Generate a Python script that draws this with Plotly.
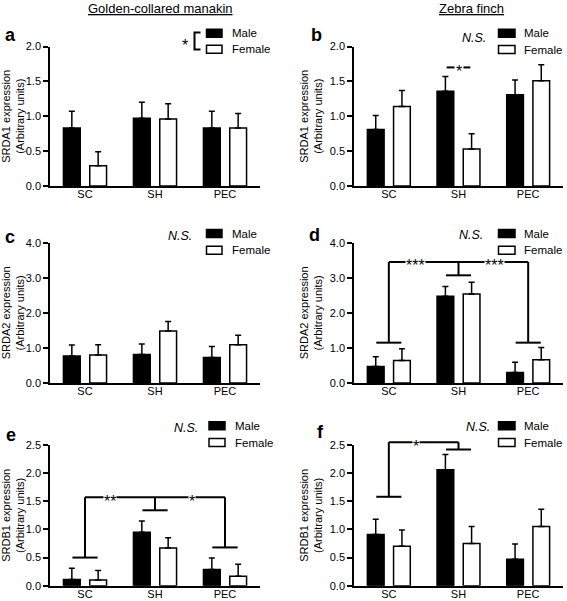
import plotly.graph_objects as go

# ---------------- data ----------------
categories = ["SC", "SH", "PEC"]

a_male = [0.83, 0.97, 0.83]
a_male_err = [0.24, 0.23, 0.24]
a_female = [0.29, 0.96, 0.83]
a_female_err = [0.20, 0.22, 0.21]

b_male = [0.81, 1.36, 1.31]
b_male_err = [0.20, 0.21, 0.21]
b_female = [1.14, 0.53, 1.51]
b_female_err = [0.23, 0.22, 0.23]

c_male = [0.77, 0.81, 0.73]
c_male_err = [0.31, 0.30, 0.31]
c_female = [0.80, 1.48, 1.09]
c_female_err = [0.29, 0.27, 0.27]

d_male = [0.47, 2.47, 0.30]
d_male_err = [0.28, 0.28, 0.29]
d_female = [0.64, 2.54, 0.66]
d_female_err = [0.34, 0.33, 0.35]

e_male = [0.11, 0.95, 0.29]
e_male_err = [0.20, 0.20, 0.20]
e_female = [0.10, 0.67, 0.17]
e_female_err = [0.17, 0.18, 0.21]

f_male = [0.91, 2.06, 0.47]
f_male_err = [0.27, 0.27, 0.27]
f_female = [0.70, 0.75, 1.05]
f_female_err = [0.29, 0.30, 0.31]

panel_letters = ["a", "b", "c", "d", "e", "f"]
y_titles = ["SRDA1 expression", "SRDA1 expression", "SRDA2 expression",
            "SRDA2 expression", "SRDB1 expression", "SRDB1 expression"]
y_max = [2.0, 2.0, 4.0, 4.0, 2.5, 2.5]
y_dtick = [0.5, 0.5, 1.0, 1.0, 0.5, 0.5]
column_titles = ["Golden-collared manakin", "Zebra finch"]

# significance brackets (heights in data units)
d_bracket_base = [1.15, 3.07, 1.15]
d_bracket_top = 3.45
d_labels = [(0.38, "***"), (1.52, "***")]
e_bracket_base = [0.50, 1.34, 0.68]
e_bracket_top = 1.57
e_labels = [(0.35, "**"), (1.53, "*")]
f_bracket_base = [1.58, 2.42]
f_bracket_top = 2.55
f_labels = [(0.39, "*")]
b_sig_height = 1.70

males = [a_male, b_male, c_male, d_male, e_male, f_male]
males_err = [a_male_err, b_male_err, c_male_err, d_male_err, e_male_err, f_male_err]
females = [a_female, b_female, c_female, d_female, e_female, f_female]
females_err = [a_female_err, b_female_err, c_female_err, d_female_err, e_female_err, f_female_err]

# ---------------- layout geometry ----------------
W, H = 567, 601
FONT = "Arial, Liberation Sans, sans-serif"


def px(xp):
    return xp / W


def py(yp):
    return 1 - yp / H


col_dom = [(50, 260), (354, 563)]
row_dom = [(46.5, 186), (242.7, 383), (445, 585.7)]

fig = go.Figure()
layout = dict(
    width=W, height=H, margin=dict(l=0, r=0, t=0, b=0),
    paper_bgcolor="white", plot_bgcolor="white",
    barmode="overlay", showlegend=False, hovermode=False,
    font=dict(family=FONT, color="black"),
)
shapes = []
annotations = []

xs = list(range(len(categories)))
BAR_W = 0.24

for i in range(6):
    r, c = divmod(i, 2)
    n = "" if i == 0 else str(i + 1)
    xa, ya = "x" + n, "y" + n
    layout["xaxis" + n] = dict(
        domain=[px(col_dom[c][0]), px(col_dom[c][1])], anchor=ya,
        range=[-0.5, 2.5], tickvals=xs, ticktext=categories,
        showline=True, linecolor="black", linewidth=1.5, ticks="",
        showgrid=False, zeroline=False, fixedrange=True, ticklabelstandoff=-3,
        tickfont=dict(size=11, color="black"), automargin=False,
    )
    layout["yaxis" + n] = dict(
        domain=[py(row_dom[r][1]), py(row_dom[r][0])], anchor=xa,
        range=[0, y_max[i]], dtick=y_dtick[i], tick0=0, tickformat=".1f",
        showline=True, linecolor="black", linewidth=1.5,
        ticks="outside", ticklen=5, tickwidth=1.5, tickcolor="black",
        showgrid=False, zeroline=False, fixedrange=True,
        tickfont=dict(size=11, color="black"), automargin=False,
        title=dict(text=y_titles[i] + "<br>(Arbitrary units)",
                   font=dict(size=11, color="black"), standoff=5),
    )
    fig.add_trace(go.Bar(
        x=xs, y=males[i], width=BAR_W, offset=-0.308, name="Male",
        marker=dict(color="black", line=dict(color="black", width=1.5)),
        error_y=dict(type="data", symmetric=False, array=males_err[i],
                     arrayminus=[0] * 3, color="black", thickness=1.5, width=3),
        xaxis=xa, yaxis=ya, showlegend=False,
    ))
    fig.add_trace(go.Bar(
        x=xs, y=females[i], width=BAR_W, offset=0.068, name="Female",
        marker=dict(color="white", line=dict(color="black", width=1.5)),
        error_y=dict(type="data", symmetric=False, array=females_err[i],
                     arrayminus=[0] * 3, color="black", thickness=1.5, width=3),
        xaxis=xa, yaxis=ya, showlegend=False,
    ))

# ---------------- panel letters & column titles ----------------
letter_pos = [(10, 35.5), (316, 35.5), (10, 236.5), (314, 235), (10.5, 435), (320, 432)]
for (lx, ly), letter in zip(letter_pos, panel_letters):
    annotations.append(dict(text="<b>" + letter + "</b>", x=px(lx), y=py(ly),
                            xref="paper", yref="paper", showarrow=False,
                            xanchor="center", yanchor="middle",
                            font=dict(size=18, color="black")))

for cx, t in zip([160, 471], column_titles):
    annotations.append(dict(text=t, x=px(cx), y=py(8.5), xref="paper", yref="paper",
                            showarrow=False, xanchor="center", yanchor="middle",
                            font=dict(size=13, color="black", lineposition="under")))

# ---------------- legends (per panel) ----------------
legend_geo = [  # (box_left, box_right, male_top, female_top, text_x)
    (206.5, 222, 29.3, 45.3, 230),
    (498.5, 515, 29.3, 45.5, 522),
    (206.5, 222, 229.5, 246.2, 229.5),
    (498.5, 515, 229.5, 246.2, 522),
    (209, 225, 421.8, 438.5, 233),
    (498.5, 515, 421.8, 438.5, 522),
]
BOX_H = 8
for i, (bl, br, mt, ft, tx) in enumerate(legend_geo):
    shapes.append(dict(type="rect", xref="paper", yref="paper",
                       x0=px(bl), x1=px(br), y0=py(mt + BOX_H), y1=py(mt),
                       fillcolor="black", line=dict(color="black", width=1.5)))
    shapes.append(dict(type="rect", xref="paper", yref="paper",
                       x0=px(bl), x1=px(br), y0=py(ft + BOX_H), y1=py(ft),
                       fillcolor="white", line=dict(color="black", width=1.5)))
    for lbl, top in (("Male", mt), ("Female", ft)):
        annotations.append(dict(text=lbl, x=px(tx), y=py(top + BOX_H / 2),
                                xref="paper", yref="paper", showarrow=False,
                                xanchor="left", yanchor="middle",
                                font=dict(size=11.5, color="black")))

# N.S. labels (panels b-f)
ns_pos = [None, (474, 38.3), (180, 236), (471, 235), (186, 428), (477.5, 427)]
for p in ns_pos:
    if p is None:
        continue
    annotations.append(dict(text="<i>N.S.</i>", x=px(p[0]), y=py(p[1]),
                            xref="paper", yref="paper", showarrow=False,
                            xanchor="center", yanchor="middle",
                            font=dict(size=12.5, color="black")))

# panel a legend bracket with asterisk
shapes.append(dict(type="path", xref="paper", yref="paper",
                   path="M {},{} L {},{} L {},{} L {},{}".format(
                       px(200.5), py(32.5), px(194.5), py(32.5),
                       px(194.5), py(49.5), px(200.5), py(49.5)),
                   line=dict(color="black", width=2)))
annotations.append(dict(text="*", x=px(185), y=py(41.5), xref="paper", yref="paper",
                        showarrow=False, xanchor="center", yanchor="middle", yshift=-4,
                        font=dict(size=16, color="black")))

# ---------------- significance brackets ----------------
HALF = 0.18


def bracket(panel, bases, top, labels):
    n = "" if panel == 0 else str(panel + 1)
    xa, ya = "x" + n, "y" + n + " domain"
    ym = y_max[panel]
    for k, base in enumerate(bases):
        shapes.append(dict(type="line", xref=xa, yref=ya, x0=k - HALF, x1=k + HALF,
                           y0=base / ym, y1=base / ym, line=dict(color="black", width=2)))
        shapes.append(dict(type="line", xref=xa, yref=ya, x0=k, x1=k,
                           y0=base / ym, y1=top / ym, line=dict(color="black", width=2)))
    shapes.append(dict(type="line", xref=xa, yref=ya, x0=0, x1=len(bases) - 1,
                       y0=top / ym, y1=top / ym, line=dict(color="black", width=2)))
    for lx, txt in labels:
        annotations.append(dict(text=txt, x=lx, y=top / ym, xref="x" + n, yref=ya,
                                showarrow=False, xanchor="center", yanchor="middle",
                                yshift=-4, bgcolor="white", borderpad=0,
                                font=dict(size=16, color="black")))


bracket(3, d_bracket_base, d_bracket_top, d_labels)
bracket(4, e_bracket_base, e_bracket_top, e_labels)
bracket(5, f_bracket_base, f_bracket_top, f_labels)

# panel b: SH male vs female
shapes.append(dict(type="line", xref="x2", yref="y2 domain", x0=1 - 0.17, x1=1 + 0.17,
                   y0=b_sig_height / y_max[1], y1=b_sig_height / y_max[1],
                   line=dict(color="black", width=2)))
annotations.append(dict(text="*", x=1, y=b_sig_height / y_max[1], xref="x2", yref="y2 domain",
                        showarrow=False, xanchor="center", yanchor="middle", yshift=-4,
                        bgcolor="white", borderpad=1, font=dict(size=16, color="black")))

layout["shapes"] = shapes
layout["annotations"] = annotations
fig.update_layout(**layout)
fig.write_html("out.html", config={"displayModeBar": False},
               post_script="document.body.style.margin='0';")
